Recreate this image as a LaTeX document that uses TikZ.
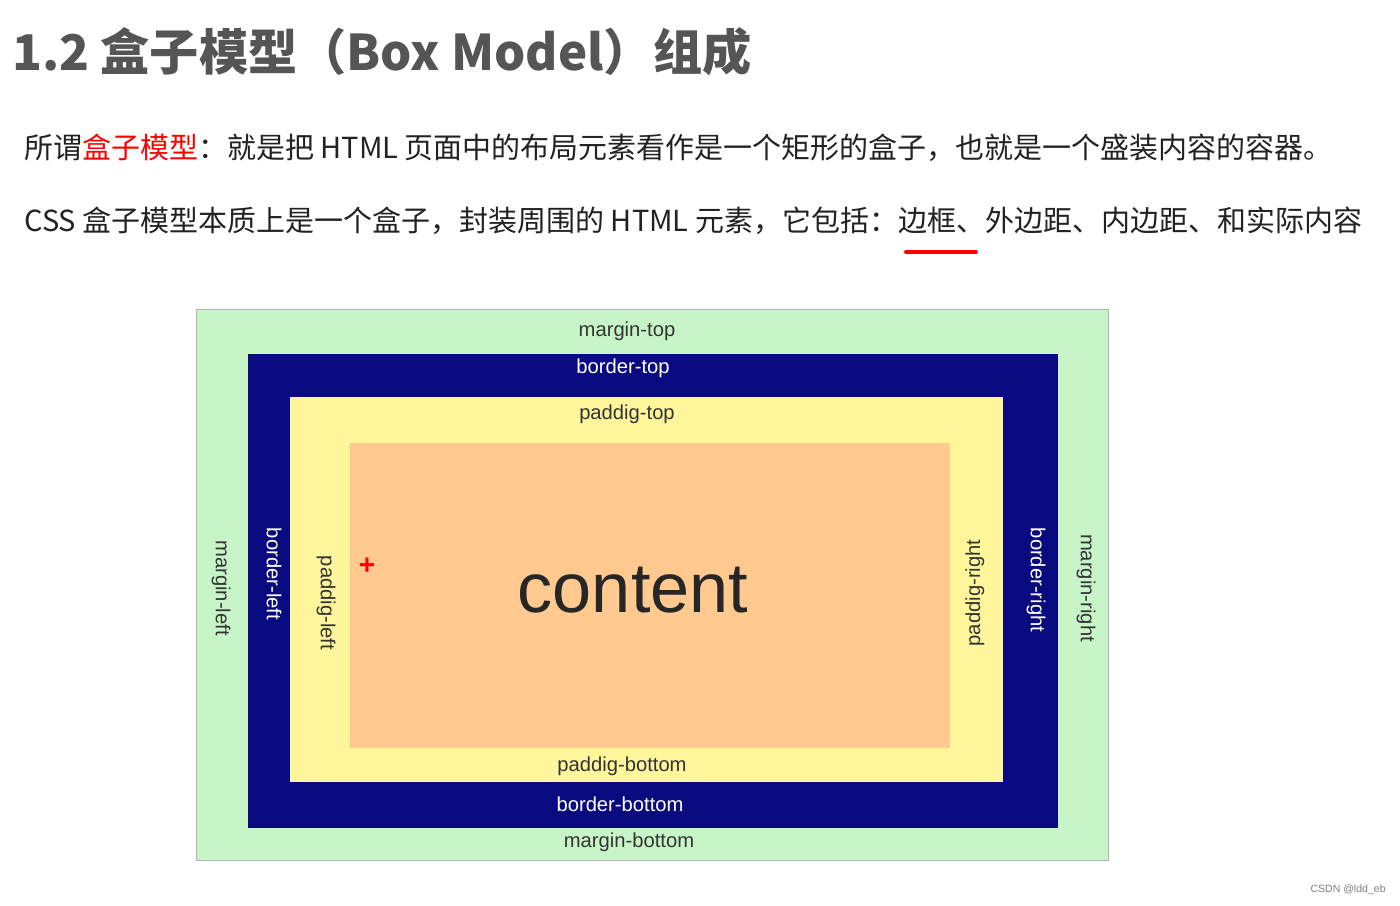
\documentclass[tikz,border=0pt]{standalone}
\usepackage{fontspec}
\setmainfont{Liberation Sans}
\newfontfamily\cjk{Noto Sans CJK SC}
\newfontfamily\cjkb[FakeBold=0]{Noto Sans CJK SC Bold}
\definecolor{mgreen}{HTML}{C8F5C8}
\definecolor{navyb}{HTML}{0A0A80}
\definecolor{yel}{HTML}{FFF59A}
\definecolor{ora}{HTML}{FFC98F}
\definecolor{titlegray}{HTML}{555555}
\definecolor{txt}{HTML}{222222}
\definecolor{lbl}{HTML}{333333}
\tikzset{lab/.style={font=\fontsize{11.5}{12}\selectfont,text=lbl,inner sep=0pt},
 wlab/.style={lab,text=white}}
\begin{document}
\begin{tikzpicture}[x=0.02cm,y=-0.02cm]
\useasboundingbox[fill=white] (0,0) rectangle (1400,906);
\node[anchor=west,inner sep=0pt,text=titlegray] (title) at (12,52) {\cjk\fontsize{28}{30}\selectfont\bfseries 1.2 盒子模型（Box Model）组成};
\node[anchor=west,inner sep=0pt,text=txt] (l1) at (24,148) {\cjk\fontsize{16.5}{18}\selectfont 所谓\textcolor{red}{盒子模型}：就是把 HTML 页面中的布局元素看作是一个矩形的盒子，也就是一个盛装内容的容器。};
\node[anchor=west,inner sep=0pt,text=txt] (l2) at (24,221) {\cjk\fontsize{16.5}{18}\selectfont CSS 盒子模型本质上是一个盒子，封装周围的 HTML 元素，它包括：边框、外边距、内边距、和实际内容};
\draw[red,line width=2.2pt,line cap=round] (906,252) -- (976,252);
\draw[fill=mgreen,draw=gray!60] (196,309) rectangle (1108,860);
\fill[navyb] (248,354) rectangle (1058,828);
\fill[yel] (290,397) rectangle (1003,782);
\fill[ora] (350,443) rectangle (950,748);
\node[lab] (mt) at (627,331) {margin-top};
\node[wlab] (bt) at (623,368) {border-top};
\node[lab] (pt) at (627,414) {paddig-top};
\node[lab] (pb) at (622,766) {paddig-bottom};
\node[wlab] (bb) at (620,804) {border-bottom};
\node[lab] (mb) at (629,842) {margin-bottom};
\node[lab,rotate=-90] (ml) at (221,588) {margin-left};
\node[wlab,rotate=-90] (bl) at (274,574) {border-left};
\node[lab,rotate=-90] (pl) at (326,603) {paddig-left};
\node[lab,rotate=90] (pr) at (975,593) {paddig-right};
\node[wlab,rotate=-90] (br) at (1036,580) {border-right};
\node[lab,rotate=-90] (mr) at (1086,588) {margin-right};
\node[inner sep=0pt,text=black!85,font=\fontsize{40}{44}\selectfont] (content) at (633,590) {content};
\node[inner sep=0pt,text=red,font=\fontsize{16}{16}\selectfont\bfseries] (plus) at (367,566) {+};
\node[anchor=east,inner sep=0pt,text=gray,font=\fontsize{6}{7}\selectfont] (csdn) at (1386,890) {CSDN @ldd\_eb};
\end{tikzpicture}
\end{document}
